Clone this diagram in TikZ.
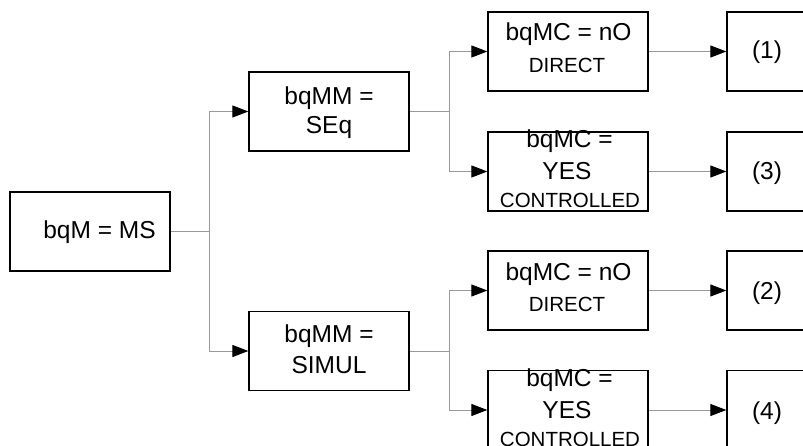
\documentclass[tikz,border=0pt]{standalone}
\usepackage{fontspec}
\setmainfont{Liberation Sans}
\usetikzlibrary{arrows.meta}
\tikzset{
 box/.style={draw=black, line width=1.3pt, minimum width=160pt, minimum height=79pt, inner sep=0pt},
 conn/.style={draw=black!40, line width=1pt},
 arr/.style={conn, -{Triangle[length=16pt,width=12pt,fill=black,color=black]}},
 big/.style={font=\fontsize{24.5}{28}\selectfont, anchor=base, inner sep=0pt},
 small/.style={font=\fontsize{20.5}{24}\selectfont, anchor=base, inner sep=0pt},
}
\begin{document}
\begin{tikzpicture}[x=1pt,y=-1pt]
\useasboundingbox (0,0) rectangle (803,446);
\clip (0,0) rectangle (803,446);
% boxes
\node[box] (root) at (90,231.5) {};
\node[box] (seq) at (329,111.5) {};
\node[box] (simul) at (329,351) {};
\node[box] (no1) at (568,51.5) {};
\node[box] (yes1) at (568,171.5) {};
\node[box] (no2) at (568,290.5) {};
\node[box] (yes2) at (568,410) {};
\node[box] (r1) at (807,51.5) {};
\node[box] (r3) at (807,171.5) {};
\node[box] (r2) at (807,290.5) {};
\node[box] (r4) at (807,410) {};
% texts
\node[big] (troot) at (99.5,238.3) {bqM = MS};
\node[big] (tseqa) at (329,104.3) {bqMM =};
\node[big] (tseqb) at (329,133.3) {SEq};
\node[big] (tsima) at (329,342.7) {bqMM =};
\node[big] (tsimb) at (329,373.3) {SIMUL};
\node[big] (tno1a) at (568.5,41) {bqMC = nO};
\node[small] (tno1b) at (567,72.7) {DIRECT};
\node[big] (tyes1a) at (569.5,148) {bqMC =};
\node[big] (tyes1b) at (567,180) {YES};
\node[small] (tyes1c) at (570,208) {CONTROLLED};
\node[big] (tno2a) at (568.5,280) {bqMC = nO};
\node[small] (tno2b) at (567,311.7) {DIRECT};
\node[big] (tyes2a) at (569.5,386) {bqMC =};
\node[big] (tyes2b) at (567,418) {YES};
\node[small] (tyes2c) at (570,446) {CONTROLLED};
\node[big] (tr1) at (767,59) {(1)};
\node[big] (tr3) at (767,179.5) {(3)};
\node[big] (tr2) at (767,299) {(2)};
\node[big] (tr4) at (767,419) {(4)};
% connectors
\coordinate (j1) at (209,231.5);
\coordinate (j2) at (449,111.5);
\coordinate (j3) at (449,351);
\draw[conn] (root.east) -- (j1);
\draw[arr] (j1) |- (seq.west);
\draw[arr] (j1) |- (simul.west);
\draw[conn] (seq.east) -- (j2);
\draw[arr] (j2) |- (no1.west);
\draw[arr] (j2) |- (yes1.west);
\draw[conn] (simul.east) -- (j3);
\draw[arr] (j3) |- (no2.west);
\draw[arr] (j3) |- (yes2.west);
\draw[arr] (no1.east) -- (r1.west);
\draw[arr] (yes1.east) -- (r3.west);
\draw[arr] (no2.east) -- (r2.west);
\draw[arr] (yes2.east) -- (r4.west);
\end{tikzpicture}
\end{document}
